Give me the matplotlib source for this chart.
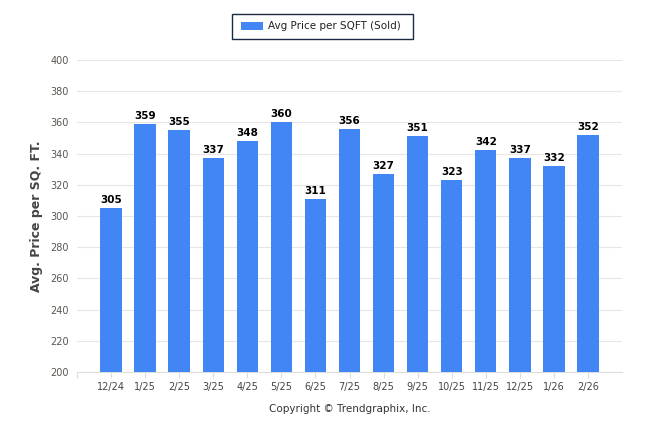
import matplotlib.pyplot as plt
from matplotlib.patches import Rectangle

months = ['12/24', '1/25', '2/25', '3/25', '4/25', '5/25', '6/25', '7/25',
          '8/25', '9/25', '10/25', '11/25', '12/25', '1/26', '2/26']
prices = [305, 359, 355, 337, 348, 360, 311, 356, 327, 351, 323, 342, 337, 332, 352]
yticks = [200, 220, 240, 260, 280, 300, 320, 340, 360, 380, 400]

fig = plt.figure(figsize=(6.46, 4.34), dpi=100)
ax = fig.add_axes([77/646, 1-372/434, (622-77)/646, (372-60)/434])

x = list(range(len(months)))
bars = ax.bar(x, [p - 200 for p in prices], bottom=200, width=0.63,
              color='#4285f4', zorder=3)
for xi, p in zip(x, prices):
    ax.text(xi, p + 2, str(p), ha='center', va='bottom', fontsize=7.5,
            fontweight='bold', color='black', zorder=4)

ax.set_ylim(200, 400)
ax.set_xlim(-1, 15)
ax.set_yticks(yticks)
ax.set_yticklabels([str(t) for t in yticks], fontsize=7, color='#5a5550')
ax.set_xticks([-1] + x)
ax.set_xticklabels([''] + months, fontsize=7, color='#444444')
ax.tick_params(axis='y', length=0, pad=6)
ax.tick_params(axis='x', length=4, color='#dddddd', pad=3)
ax.grid(axis='y', color='#e6e6e6', linewidth=0.8, zorder=0)
for s in ['top', 'right', 'left']:
    ax.spines[s].set_visible(False)
ax.spines['bottom'].set_color('#dddddd')

fig.text(37/646, 1-216/434, 'Avg. Price per SQ. FT.', rotation=90,
         ha='center', va='center', fontsize=9, fontweight='bold', color='#444444')
fig.text(350/646, 1-409/434, 'Copyright \u00a9 Trendgraphix, Inc.',
         ha='center', va='center', fontsize=7.5, color='#333333')

# legend box with shadow
fig.patches.append(Rectangle((233/646, 1-40/434), 181/646, 25/434,
                             transform=fig.transFigure, facecolor='#aaaaaa',
                             edgecolor='none', zorder=1))
fig.patches.append(Rectangle((232/646, 1-39/434), 181/646, 25/434,
                             transform=fig.transFigure, facecolor='white',
                             edgecolor='#1a2a44', linewidth=1, zorder=2))
fig.patches.append(Rectangle((241/646, 1-30/434), 22/646, 8/434,
                             transform=fig.transFigure, facecolor='#4285f4',
                             edgecolor='none', zorder=3))
fig.text(268/646, 1-26/434, 'Avg Price per SQFT (Sold)', ha='left', va='center',
         fontsize=7.5, color='#222222')

fig.savefig('out.png', dpi=100)
